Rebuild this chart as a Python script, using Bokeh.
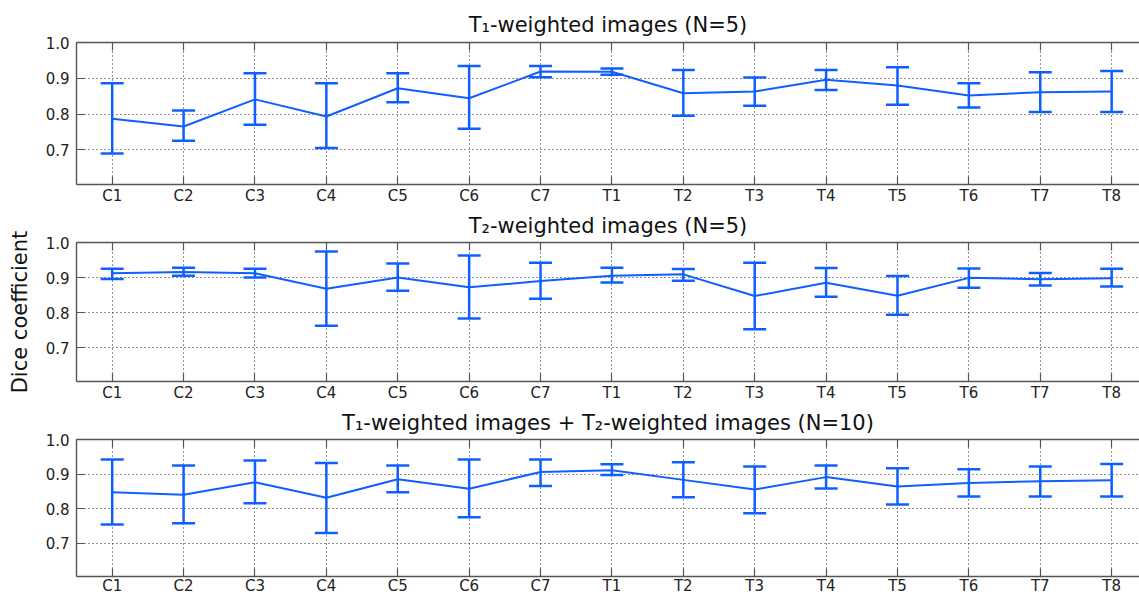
from bokeh.plotting import figure
from bokeh.models import (ColumnDataSource, Whisker, TeeHead, FixedTicker, LinearAxis,
                          Range1d, NumeralTickFormatter, CustomLabelingPolicy)
from bokeh.layouts import column
from bokeh.embed import file_html
from bokeh.resources import INLINE

# ---------------- data ----------------
labels = ["C1", "C2", "C3", "C4", "C5", "C6", "C7",
          "T1", "T2", "T3", "T4", "T5", "T6", "T7", "T8"]
positions = list(range(1, 16))

titles = ["T\u2081-weighted images (N=5)",
          "T\u2082-weighted images (N=5)",
          "T\u2081-weighted images + T\u2082-weighted images (N=10)"]

y_ticks = [0.7, 0.8, 0.9, 1.0]
y_label = "Dice coefficient"

t1_mean = [0.787, 0.765, 0.841, 0.793, 0.872, 0.844, 0.919,
           0.918, 0.858, 0.863, 0.896, 0.880, 0.852, 0.861, 0.863]
t1_upper = [0.886, 0.810, 0.914, 0.886, 0.914, 0.934, 0.934,
            0.927, 0.923, 0.902, 0.923, 0.931, 0.886, 0.917, 0.920]
t1_lower = [0.690, 0.725, 0.770, 0.705, 0.833, 0.759, 0.903,
            0.910, 0.795, 0.823, 0.867, 0.826, 0.818, 0.806, 0.806]

t2_mean = [0.912, 0.916, 0.912, 0.868, 0.900, 0.872, 0.890,
           0.905, 0.909, 0.847, 0.885, 0.848, 0.899, 0.895, 0.898]
t2_upper = [0.925, 0.928, 0.925, 0.974, 0.940, 0.963, 0.942,
            0.928, 0.924, 0.942, 0.927, 0.904, 0.926, 0.913, 0.925]
t2_lower = [0.896, 0.905, 0.900, 0.762, 0.862, 0.783, 0.839,
            0.886, 0.891, 0.752, 0.845, 0.794, 0.871, 0.877, 0.874]

all_mean = [0.847, 0.840, 0.876, 0.831, 0.885, 0.857, 0.906,
            0.911, 0.883, 0.855, 0.891, 0.864, 0.874, 0.879, 0.882]
all_upper = [0.942, 0.925, 0.939, 0.932, 0.925, 0.942, 0.942,
             0.928, 0.934, 0.922, 0.925, 0.917, 0.914, 0.922, 0.929]
all_lower = [0.754, 0.757, 0.815, 0.729, 0.847, 0.775, 0.865,
             0.897, 0.833, 0.786, 0.858, 0.812, 0.835, 0.835, 0.835]

# ---------------- style ----------------
BLUE = "#0f5fff"
FONT = "DejaVu Sans"
AXIS_COLOR = "#555555"


def make_panel(title, mean, upper, lower, height, top_border, bottom_border,
               label_standoff=2, title_standoff=12, ylabel=None):
    p = figure(width=1139, height=height,
               x_range=Range1d(0.5, 15.39), y_range=Range1d(0.603, 1.0),
               output_backend="svg", toolbar_location=None,
               min_border_left=76, min_border_right=0,
               min_border_top=top_border, min_border_bottom=bottom_border,
               background_fill_color="white", border_fill_color="white")
    p.outline_line_color = None

    p.title.text = title
    p.title.align = "center"
    p.title.offset = 4
    p.title.text_font = FONT
    p.title.text_font_size = "21px"
    p.title.text_font_style = "normal"
    p.title.text_color = "#111111"
    p.title.standoff = title_standoff

    xt = FixedTicker(ticks=positions)
    p.xaxis.ticker = xt
    p.xaxis.major_label_overrides = {pos: lab for pos, lab in zip(positions, labels)}
    p.yaxis.ticker = FixedTicker(ticks=y_ticks)
    p.yaxis.formatter = NumeralTickFormatter(format="0.0")

    for ax in (p.xaxis[0], p.yaxis[0]):
        ax.axis_line_color = AXIS_COLOR
        ax.axis_line_width = 1.4
        ax.major_tick_line_color = AXIS_COLOR
        ax.major_tick_line_width = 1.2
        ax.major_tick_in = 8
        ax.major_tick_out = 0
        ax.minor_tick_line_color = None
        ax.major_label_text_font = FONT
        ax.major_label_text_font_size = "15px"
        ax.major_label_text_color = "#222222"
    p.xaxis.major_label_standoff = label_standoff
    p.yaxis.major_label_standoff = 7

    top = LinearAxis(ticker=FixedTicker(ticks=positions),
                     major_label_policy=CustomLabelingPolicy(code="return []"))
    top.axis_line_color = AXIS_COLOR
    top.axis_line_width = 1.4
    top.major_tick_line_color = AXIS_COLOR
    top.major_tick_line_width = 1.2
    top.major_tick_in = 8
    top.major_tick_out = 0
    top.minor_tick_line_color = None
    top.major_label_text_font_size = "0px"
    top.major_label_standoff = 0
    p.add_layout(top, "above")

    p.xgrid.ticker = xt
    p.ygrid.ticker = FixedTicker(ticks=y_ticks)
    p.grid.grid_line_color = "#222222"
    p.grid.grid_line_dash = "1 3"
    p.grid.grid_line_width = 1

    if ylabel:
        p.yaxis.axis_label = ylabel
        p.yaxis.axis_label_text_font = FONT
        p.yaxis.axis_label_text_font_size = "21px"
        p.yaxis.axis_label_text_font_style = "normal"
        p.yaxis.axis_label_text_color = "#111111"
        p.yaxis.axis_label_standoff = 11

    src = ColumnDataSource(dict(x=positions, mean=mean, upper=upper, lower=lower))
    p.line("x", "mean", source=src, line_color=BLUE, line_width=2)
    w = Whisker(source=src, base="x", upper="upper", lower="lower",
                line_color=BLUE, line_width=2.5, level="glyph",
                upper_head=TeeHead(size=23, line_color=BLUE, line_width=2.5),
                lower_head=TeeHead(size=23, line_color=BLUE, line_width=2.5))
    p.add_layout(w)
    return p


p1 = make_panel(titles[0], t1_mean, t1_upper, t1_lower, 207, 42, 23)
p2 = make_panel(titles[1], t2_mean, t2_upper, t2_lower, 197, 33, 23,
                title_standoff=9, ylabel=y_label)
p3 = make_panel(titles[2], all_mean, all_upper, all_lower, 193, 33, 18,
                label_standoff=0, title_standoff=9)

layout = column(p1, p2, p3, spacing=0)
open("out.html", "w").write(file_html(layout, INLINE))
